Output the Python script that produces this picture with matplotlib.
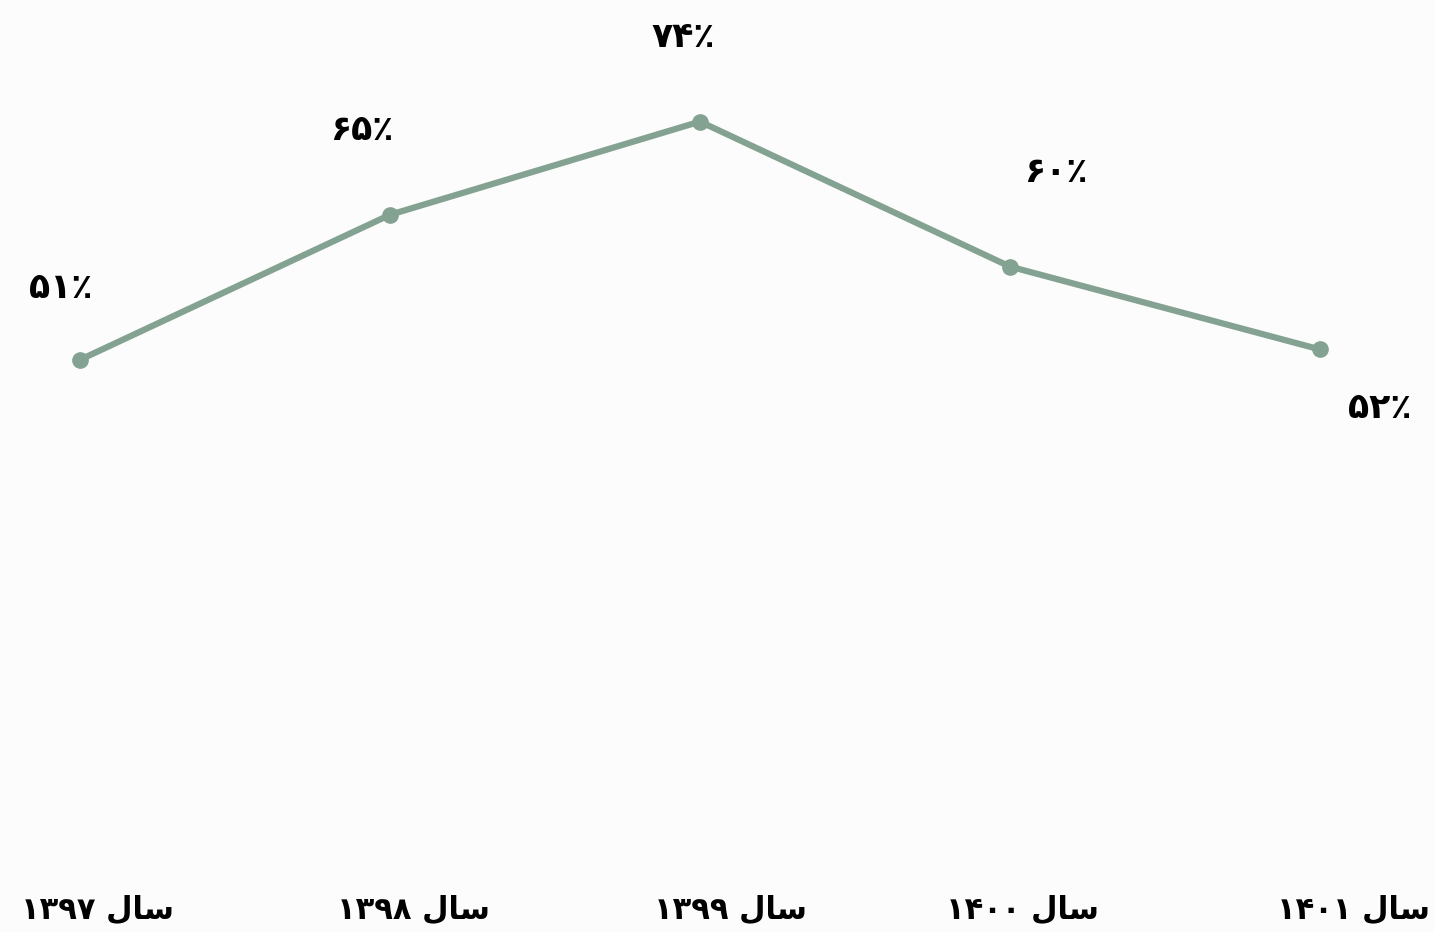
import matplotlib
matplotlib.use('Agg')
import matplotlib.pyplot as plt

# data
years = ['۱۳۹۷', '۱۳۹۸', '۱۳۹۹', '۱۴۰۰', '۱۴۰۱']
values = [51, 65, 74, 60, 52]
value_labels = ['۵۱٪', '۶۵٪', '۷۴٪', '۶۰٪', '۵۲٪']

# "سال" shaped by hand (matplotlib has no arabic shaping), visual order LTR
sal = '\uFEDD\uFE8E\uFEB3'

# label offsets in points (dx, dy)
label_offsets = [(-14, 52), (-20, 61), (-12, 61), (33, 68), (43, -42)]
year_shift = [0.055, 0.075, 0.097, 0.04, 0.107]

plt.rcParams['font.family'] = ['DejaVu Sans']

fig = plt.figure(figsize=(14.34, 9.32), dpi=100, facecolor='#fcfcfc')
ax = fig.add_axes([0, 0, 1, 1])
ax.set_facecolor('#fcfcfc')

x = list(range(len(values)))
ax.plot(x, values, color='#84a291', linewidth=4.5, marker='o', markersize=11,
        solid_capstyle='round')

for xi, v, lab, (dx, dy) in zip(x, values, value_labels, label_offsets):
    ax.annotate(lab, (xi, v), xytext=(dx, dy), textcoords='offset points',
                ha='center', va='center', fontsize=25, fontweight='bold',
                color='black')

for xi, yr, s in zip(x, years, year_shift):
    ax.text(xi + s, -2.1, yr + ' ' + sal, ha='center', va='center',
            fontsize=22, fontweight='bold', color='black')

ax.set_xlim(-0.258, 4.368)
ax.set_ylim(-4.25, 85.74)
ax.axis('off')

plt.savefig('out.png', dpi=100, facecolor=fig.get_facecolor())
